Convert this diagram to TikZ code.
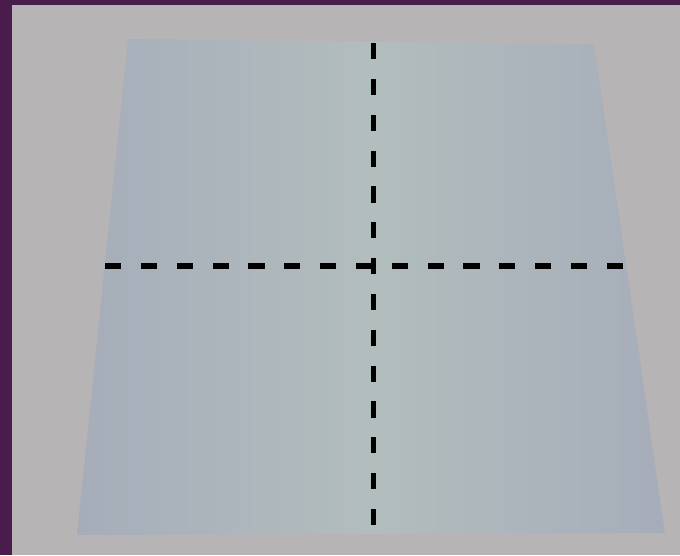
\documentclass[tikz,border=0pt]{standalone}
\usepackage{tikz}
\usetikzlibrary{calc}

\definecolor{frameviolet}{HTML}{4A1C4B}
\definecolor{tablegray}{HTML}{B7B4B5}
\definecolor{paperblue}{HTML}{A6ADBA}
\definecolor{papermid}{HTML}{B2BDBD}

\begin{document}
\begin{tikzpicture}[x=0.02cm,y=-0.02cm,line join=round]
  \tikzset{
    foldline/.style={line width=3.1pt,black,dash pattern=on 9.2pt off 11.2pt}
  }
  \useasboundingbox (0,0) rectangle (680,555);

  % frame and table
  \fill[frameviolet] (0,0) rectangle (680,555);
  \fill[tablegray] (12,5) rectangle (680,555);

  % paper sheet
  \coordinate (tl) at (128,39);
  \coordinate (tr) at (594,44);
  \coordinate (br) at (665,533);
  \coordinate (bl) at (77,535);
  \shade[left color=paperblue,right color=paperblue,middle color=papermid]
    (tl) -- (tr) -- (br) -- (bl) -- cycle;

  % fold lines
  \coordinate (hleft) at (105,266);
  \coordinate (hright) at (628,266);
  \coordinate (vtop) at (373.5,43);
  \coordinate (vbottom) at (373.5,528);
  \draw[foldline] (hleft) -- (hright);
  \draw[foldline] (vtop) -- (vbottom);
\end{tikzpicture}
\end{document}
